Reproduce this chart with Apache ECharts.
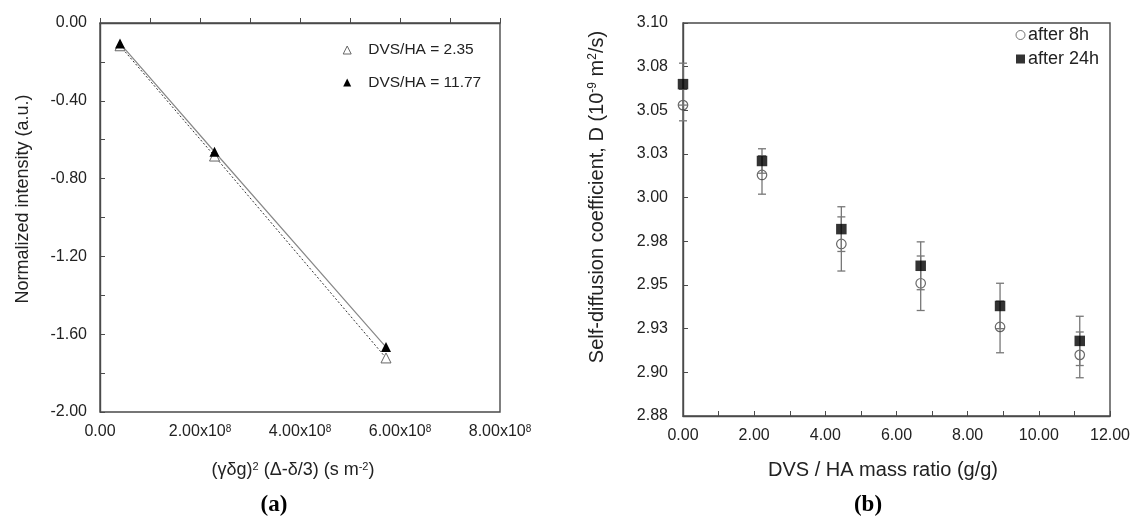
<!DOCTYPE html>
<html><head><meta charset="utf-8">
<script src="https://cdn.jsdelivr.net/npm/echarts@6/dist/echarts.min.js"></script>
<style>html,body{margin:0;padding:0;background:#fff}#c{width:1134px;height:517px}</style>
</head><body><div id="c"></div>
<script>
// ---- panel (a) ----
const gradX = [0.40e8, 2.29e8, 5.72e8];
const intensityLow = [-0.117, -0.684, -1.722];   // DVS/HA = 2.35
const intensityHigh = [-0.105, -0.662, -1.666];  // DVS/HA = 11.77
const leftYTicks = ['-2.00', '-1.60', '-1.20', '-0.80', '-0.40', '0.00'];
const leftXTicks = ['0.00', '2.00', '4.00', '6.00', '8.00'];
const seriesNamesA = ['DVS/HA = 2.35', 'DVS/HA = 11.77'];

// ---- panel (b) ----
const ratio = [0, 2.22, 4.45, 6.68, 8.91, 11.15];
const d8h = [3.053, 3.013, 2.9735, 2.951, 2.926, 2.910];
const err8h = [0.009, 0.011, 0.0155, 0.0156, 0.0148, 0.0131];
const d24h = [3.065, 3.021, 2.982, 2.961, 2.938, 2.918];
const err24h = [0.012, 0.007, 0.0128, 0.0137, 0.013, 0.0141];
const rightYTicks = ['2.88', '2.90', '2.93', '2.95', '2.98', '3.00', '3.03', '3.05', '3.08', '3.10'];
const rightXTicks = ['0.00', '2.00', '4.00', '6.00', '8.00', '10.00', '12.00'];
const seriesNamesB = ['after 8h', 'after 24h'];

const AX = '#4a4a4a';
const TXT = '#222';
const FONT = 'Liberation Sans';

function errSeries(xs, ys, es, z) {
  return {
    type: 'custom', xAxisIndex: 1, yAxisIndex: 1, z: z, silent: true, clip: false,
    data: xs.map((x, i) => [x, ys[i] - es[i], ys[i] + es[i]]),
    encode: { x: 0, y: [1, 2] },
    renderItem: function (params, api) {
      const lo = api.coord([api.value(0), api.value(1)]);
      const hi = api.coord([api.value(0), api.value(2)]);
      const w = 4;
      const st = { stroke: '#777', lineWidth: 1.3 };
      return {
        type: 'group', children: [
          { type: 'line', shape: { x1: lo[0], y1: lo[1], x2: hi[0], y2: hi[1] }, style: st },
          { type: 'line', shape: { x1: lo[0] - w, y1: lo[1], x2: lo[0] + w, y2: lo[1] }, style: st },
          { type: 'line', shape: { x1: hi[0] - w, y1: hi[1], x2: hi[0] + w, y2: hi[1] }, style: st }
        ]
      };
    }
  };
}

function richSup(size, supSize) {
  return {
    n: { fontSize: size, fill: TXT, color: TXT, fontFamily: FONT },
    s: { fontSize: supSize, fill: TXT, color: TXT, fontFamily: FONT, verticalAlign: 'top' }
  };
}

function titleText(text, x, y, size, supSize, rot) {
  return {
    type: 'text', x: x, y: y, rotation: rot || 0, silent: true,
    style: {
      text: text, rich: richSup(size, supSize), fontSize: size, fontFamily: FONT, fill: TXT,
      textAlign: 'center', textVerticalAlign: 'middle'
    }
  };
}

const chart = echarts.init(document.getElementById('c'), null, { renderer: 'canvas' });
chart.setOption({
  animation: false,
  textStyle: { fontFamily: FONT },
  grid: [
    { left: 100, top: 23, width: 400, height: 389, show: true, borderColor: AX, borderWidth: 1.4, backgroundColor: 'transparent' },
    { left: 683, top: 23, width: 427, height: 393, show: true, borderColor: AX, borderWidth: 1.4, backgroundColor: 'transparent' }
  ],
  xAxis: [
    {
      gridIndex: 0, type: 'value', min: 0, max: 8e8, interval: 1e8,
      axisLine: { lineStyle: { color: AX, width: 1.4 } },
      axisTick: { inside: true, length: 5, lineStyle: { color: AX } },
      splitLine: { show: false },
      axisLabel: {
        color: TXT, fontSize: 16, margin: 12,
        formatter: function (v) {
          const k = Math.round(v / 1e8);
          if (k % 2 !== 0) return '';
          if (k === 0) return '{b|' + leftXTicks[0] + '}';
          return '{b|' + leftXTicks[k / 2] + 'x10}{s|8}';
        },
        rich: {
          b: { fontSize: 16, color: TXT, fontFamily: FONT },
          s: { fontSize: 10, color: TXT, fontFamily: FONT, verticalAlign: 'top' }
        }
      }
    },
    {
      gridIndex: 1, type: 'value', min: 0, max: 12, interval: 1,
      axisLine: { lineStyle: { color: AX, width: 1.4 } },
      axisTick: { inside: true, length: 5, lineStyle: { color: AX } },
      splitLine: { show: false },
      axisLabel: {
        color: TXT, fontSize: 16, margin: 12,
        formatter: function (v) {
          const k = Math.round(v);
          return k % 2 === 0 ? rightXTicks[k / 2] : '';
        }
      }
    }
  ],
  yAxis: [
    {
      gridIndex: 0, type: 'value', min: -2, max: 0, interval: 0.2,
      axisLine: { show: true, lineStyle: { color: AX, width: 1.4 } },
      axisTick: { show: true, inside: true, length: 5, lineStyle: { color: AX } },
      splitLine: { show: false },
      axisLabel: {
        color: TXT, fontSize: 16, margin: 13,
        formatter: function (v) {
          const r = (v + 2) / 0.4;
          const k = Math.round(r);
          return Math.abs(r - k) < 1e-6 ? leftYTicks[k] : '';
        }
      }
    },
    {
      gridIndex: 1, type: 'value', min: 2.875, max: 3.1, interval: 0.025,
      axisLine: { show: true, lineStyle: { color: AX, width: 1.4 } },
      axisTick: { show: true, inside: true, length: 5, lineStyle: { color: AX } },
      splitLine: { show: false },
      axisLabel: {
        color: TXT, fontSize: 16, margin: 15,
        formatter: function (v) {
          const k = Math.round((v - 2.875) / 0.025);
          return rightYTicks[k] || '';
        }
      }
    }
  ],
  legend: [
    {
      data: [
        { name: seriesNamesA[0], icon: 'triangle', itemStyle: { color: '#fff', borderColor: '#666', borderWidth: 1 } },
        { name: seriesNamesA[1], icon: 'triangle', itemStyle: { color: '#000', borderWidth: 0 } }
      ],
      orient: 'vertical', left: 342.7, top: 42, padding: 0, itemWidth: 8, itemHeight: 8, itemGap: 16.5,
      selectedMode: false,
      textStyle: { fontSize: 15.5, color: TXT, padding: [0, 0, 0, 12] }
    },
    {
      data: [
        { name: seriesNamesB[0], icon: 'circle', itemStyle: { color: '#fff', borderColor: '#555', borderWidth: 1 } },
        { name: seriesNamesB[1], icon: 'rect', itemStyle: { color: '#000', borderWidth: 0 } }
      ],
      orient: 'vertical', left: 1015.5, top: 26, padding: 0, itemWidth: 9, itemHeight: 9, itemGap: 6,
      selectedMode: false,
      textStyle: { fontSize: 18, color: TXT, padding: [0, 0, 0, -2] }
    }
  ],
  series: [
    {
      name: seriesNamesA[0], type: 'line', xAxisIndex: 0, yAxisIndex: 0,
      data: gradX.map((x, i) => [x, intensityLow[i]]),
      symbol: 'triangle', symbolSize: 10, showSymbol: true,
      itemStyle: { color: '#fff', borderColor: '#666', borderWidth: 1 },
      lineStyle: { color: '#333', width: 1, type: [2, 2] }, z: 2
    },
    {
      name: seriesNamesA[1], type: 'line', xAxisIndex: 0, yAxisIndex: 0,
      data: gradX.map((x, i) => [x, intensityHigh[i]]),
      symbol: 'triangle', symbolSize: 10, showSymbol: true,
      itemStyle: { color: '#000', borderWidth: 0 },
      lineStyle: { color: '#888', width: 1.2 }, z: 3
    },
    errSeries(ratio, d8h, err8h, 2),
    {
      name: seriesNamesB[0], type: 'scatter', xAxisIndex: 1, yAxisIndex: 1, clip: false,
      data: ratio.map((x, i) => [x, d8h[i]]),
      symbol: 'circle', symbolSize: 9.5,
      itemStyle: { color: 'rgba(255,255,255,0)', borderColor: '#444', borderWidth: 1.2 }, z: 3
    },
    errSeries(ratio, d24h, err24h, 4),
    {
      name: seriesNamesB[1], type: 'scatter', xAxisIndex: 1, yAxisIndex: 1, clip: false,
      data: ratio.map((x, i) => [x, d24h[i]]),
      symbol: 'rect', symbolSize: 10.5,
      itemStyle: { color: '#000' }, z: 5
    }
  ],
  graphic: [
    titleText('Normalized intensity (a.u.)', 23, 199, 18, 11, Math.PI / 2),
    titleText('{n|(γδg)}{s|2}{n| (Δ-δ/3) (s m}{s|-2}{n|)}', 293, 470, 18, 11, 0),
    titleText('{n|Self-diffusion coefficient, D (10}{s|-9}{n| m}{s|2}{n|/s)}', 597, 197, 20, 12, Math.PI / 2),
    titleText('DVS / HA mass ratio (g/g)', 883, 470, 20, 12, 0),
    { type: 'text', x: 274, y: 505, style: { text: '(a)', font: 'bold 23px "Liberation Serif"', fill: '#000', textAlign: 'center', textVerticalAlign: 'middle' } },
    { type: 'text', x: 868, y: 505, style: { text: '(b)', font: 'bold 23px "Liberation Serif"', fill: '#000', textAlign: 'center', textVerticalAlign: 'middle' } }
  ]
});
</script></body></html>
